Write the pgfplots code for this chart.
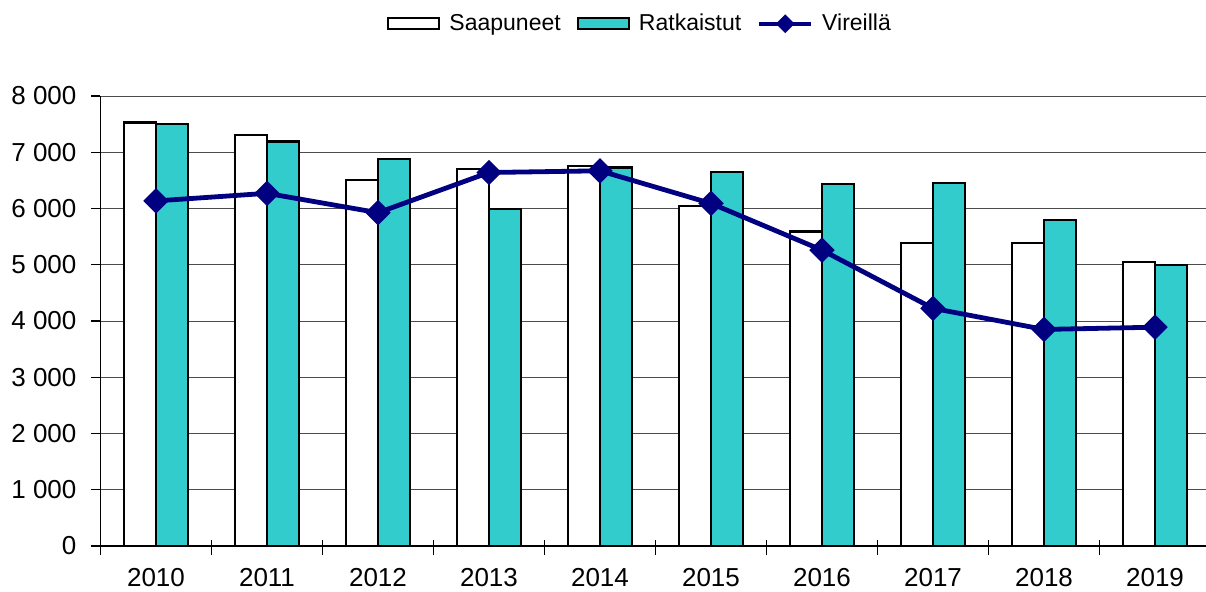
\documentclass[border=0pt]{standalone}
\usepackage{fontspec}
\setmainfont{Liberation Sans}
\usepackage{pgfplots}
\pgfplotsset{compat=1.18}

\definecolor{teal1}{RGB}{51,204,204}
\definecolor{navy1}{RGB}{0,0,128}

\pgfplotsset{
  boxleg/.style={legend image code/.code={\draw[##1] (0pt,-2.75pt) rectangle (25.5pt,2.75pt);}},
  lineleg/.style={legend image code/.code={
      \draw[##1, line width=2pt, mark=none] (0pt,0pt) -- (26pt,0pt);
      \draw[##1, mark size=2.1pt] plot coordinates {(13pt,0pt)};}},
}

\pgfplotstableread{
x year  saap  ratk  vir
0 2010  7530  7500  6135
1 2011  7305  7190  6270
2 2012  6505  6875  5925
3 2013  6700  5985  6640
4 2014  6755  6730  6670
5 2015  6050  6645  6090
6 2016  5590  6430  5260
7 2017  5390  6460  4225
8 2018  5390  5795  3850
9 2019  5045  5000  3890
}\datatable

\begin{document}
\begin{tikzpicture}
\begin{axis}[
  scale only axis, width=555pt, height=225pt,
  xmin=-0.5, xmax=9.5, ymin=0, ymax=8000,
  axis x line*=bottom, axis y line*=left,
  axis line style={black, line width=0.7pt},
  ytick={0,1000,...,8000},
  yticklabels={0,1 000,2 000,3 000,4 000,5 000,6 000,7 000,8 000},
  xtick={0,...,9},
  xticklabels={2010,2011,2012,2013,2014,2015,2016,2017,2018,2019},
  minor xtick={-0.5,0.5,...,9.5},
  tick align=outside,
  major tick length=4.5pt, minor tick length=7.5pt,
  major x tick style={draw=none},
  minor x tick style={black, line width=0.6pt, yshift=3pt},
  major y tick style={black, line width=0.6pt},
  tick label style={font=\fontsize{13}{15}\selectfont},
  xticklabel style={yshift=-3pt},
  yticklabel style={xshift=-4pt},
  ymajorgrids, grid style={black!70, line width=0.5pt},
  ybar, bar width=0.288,
  legend style={draw=none, fill=none, font=\fontsize{11.5}{14}\selectfont,
    at={(0.487,1)}, anchor=south, yshift=27pt,
    /tikz/every odd column/.append style={column sep=2.5pt},
    /tikz/every even column/.append style={column sep=6pt}},
  legend columns=-1,
  legend cell align=left,
  clip=false,
]
  \addplot[draw=black, fill=white, line width=1.1pt, bar shift=-0.144, boxleg]
    table[x=x, y=saap] {\datatable};
  \addlegendentry{Saapuneet}
  \addplot[draw=black, fill=teal1, line width=1.1pt, bar shift=0.144, boxleg]
    table[x=x, y=ratk] {\datatable};
  \addlegendentry{Ratkaistut}
  \addplot[sharp plot, navy1, line width=2.4pt, mark=square*,
    mark options={rotate=45, solid}, mark size=3.3pt, lineleg]
    table[x=x, y=vir] {\datatable};
  \addlegendentry{Vireillä}
\end{axis}
\pgfresetboundingbox
\path[use as bounding box] ([shift={(-50.25pt,-22.5pt)}]current axis.south west)
  rectangle ([shift={(-2.25pt,48pt)}]current axis.north east);
\end{tikzpicture}
\end{document}
